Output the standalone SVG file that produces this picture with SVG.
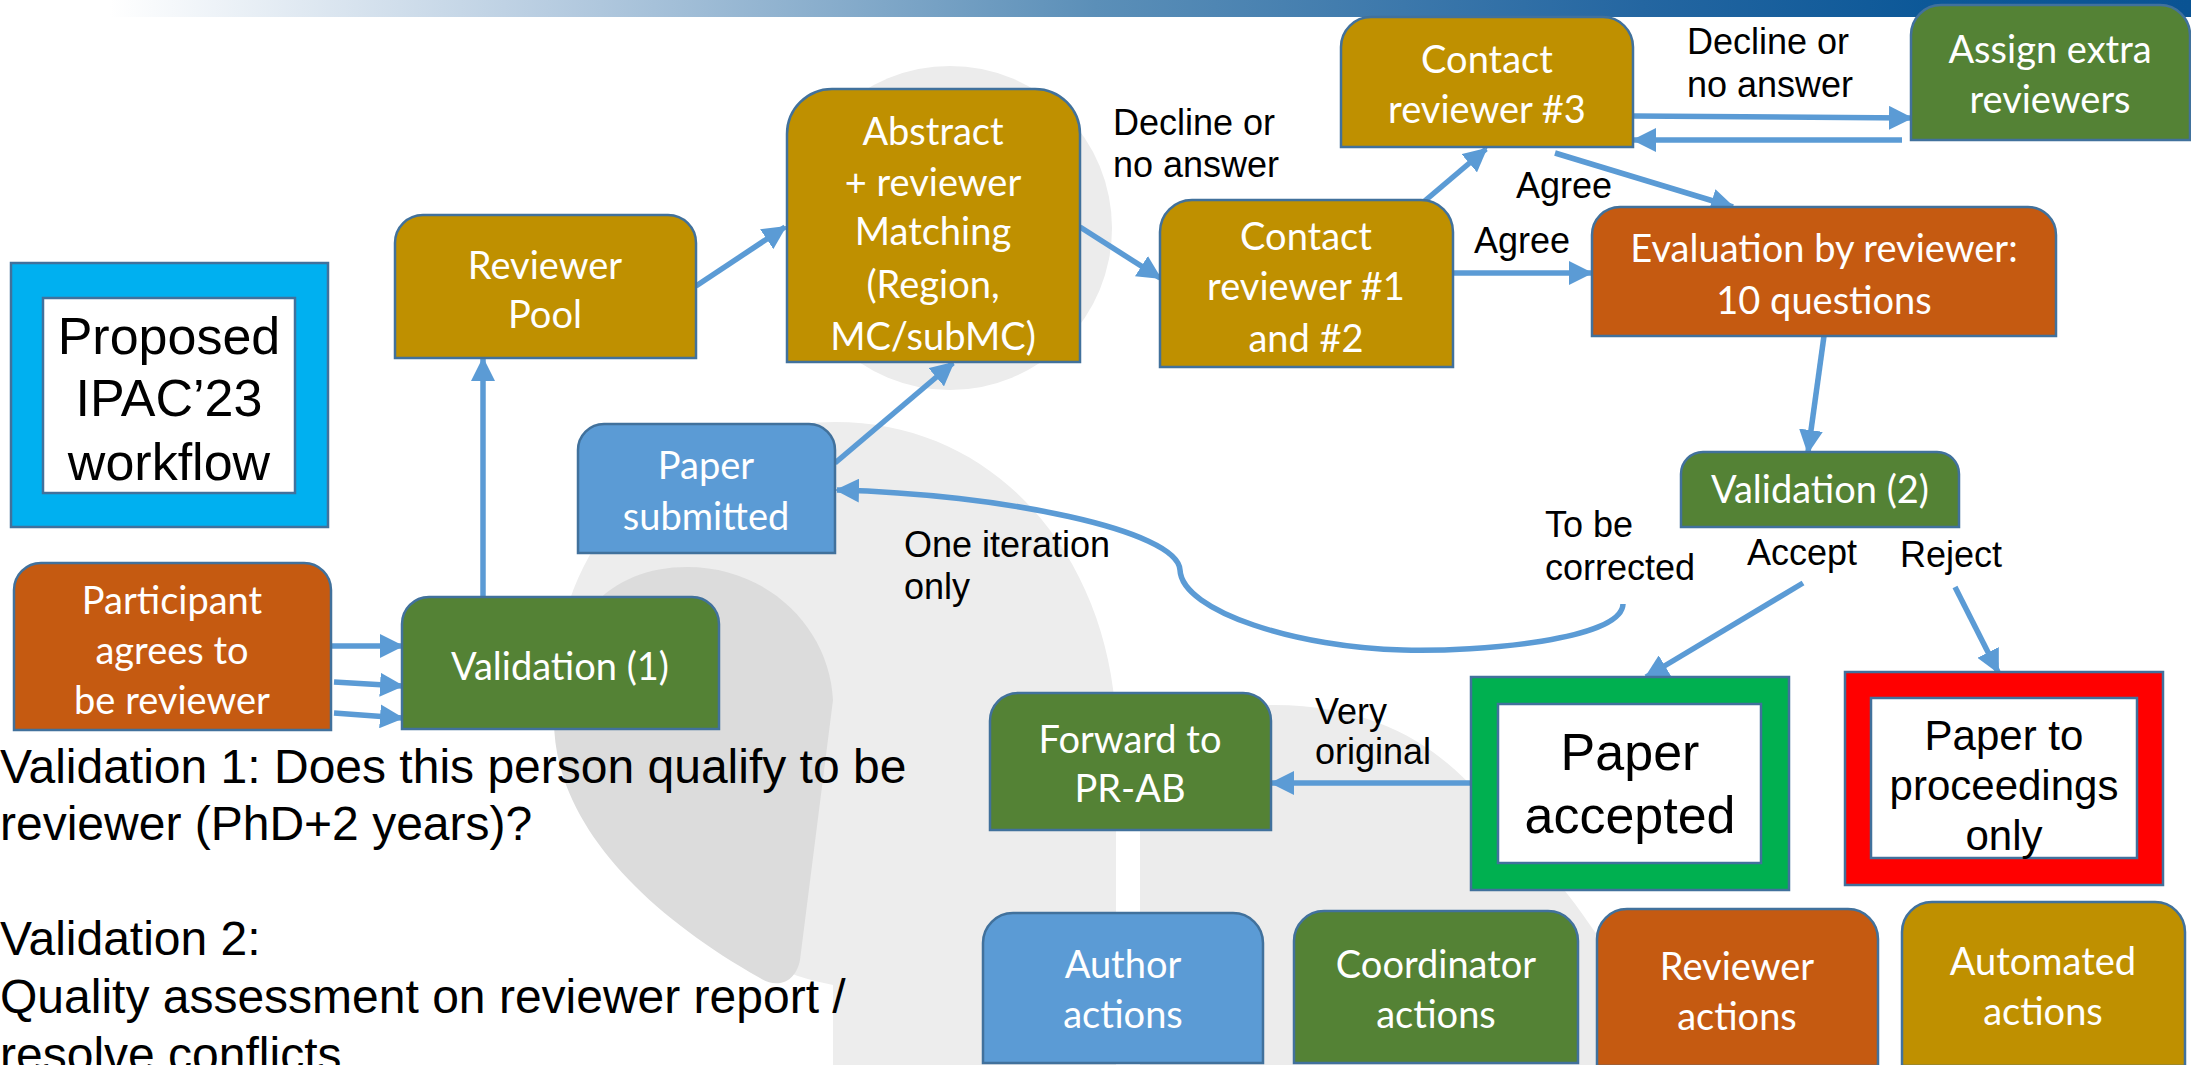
<svg xmlns="http://www.w3.org/2000/svg" width="2191" height="1065" viewBox="0 0 2191 1065">
<defs>
<linearGradient id="bar" x1="0" y1="0" x2="1" y2="0">
<stop offset="0.05" stop-color="#ffffff"/>
<stop offset="0.25" stop-color="#b8cde1"/>
<stop offset="0.5" stop-color="#5b8fb8"/>
<stop offset="0.75" stop-color="#2466a1"/>
<stop offset="0.88" stop-color="#0c5898"/>
<stop offset="1" stop-color="#0a5393"/>
</linearGradient>
<marker id="ah" markerUnits="userSpaceOnUse" markerWidth="24" markerHeight="24" viewBox="0 0 24 24" refX="22" refY="12" orient="auto">
<path d="M0,0 L24,12 L0,24 Z" fill="#5b9bd5"/>
</marker>
<style>
.n{stroke:#41719c;stroke-width:2.5}
.gold{fill:#bf9000}.green{fill:#548235}.orange{fill:#c55a11}.blue{fill:#5b9bd5}
.bt{font-family:Lato,"Open Sans",sans-serif;font-size:38px;fill:#fff;text-anchor:middle}
.lb{font-family:"Liberation Sans",Arial,sans-serif;font-size:36px;fill:#000}
.big{font-family:"Liberation Sans",Arial,sans-serif;fill:#000;text-anchor:middle}
.c{fill:none;stroke:#5b9bd5;stroke-width:5.5;marker-end:url(#ah)}
</style>
</defs>
<rect width="2191" height="1065" fill="#fff"/>
<g id="background">
<rect x="0" y="0" width="2191" height="17" fill="url(#bar)"/>
<circle cx="950" cy="228" r="162" fill="#ececec"/>
<path d="M555,700 C552,520 690,422 835,422 C1000,422 1108,560 1116,720 L1116,1065 L833,1065 L833,985 C700,960 570,830 555,700 Z" fill="#ededed"/>
<path d="M554,720 C556,620 610,567 687,567 C770,567 830,630 833,700 L800,960 C795,985 775,988 760,978 C640,910 554,820 554,720 Z" fill="#dcdcdc"/>
<path d="M1140,1065 L1140,800 C1145,730 1200,705 1274,705 C1380,705 1440,750 1480,795 C1520,840 1560,880 1590,925 L1690,1065 Z" fill="#ececec"/>
</g>
<g id="connectors">
<line class="c" x1="332" y1="646" x2="402" y2="646"/>
<line class="c" x1="334" y1="682" x2="402" y2="686"/>
<line class="c" x1="334" y1="713" x2="402" y2="718"/>
<line class="c" x1="483" y1="597" x2="483" y2="359"/>
<line class="c" x1="696" y1="286" x2="785" y2="227"/>
<line class="c" x1="1080" y1="227" x2="1160" y2="278"/>
<line class="c" x1="835" y1="463" x2="953" y2="363"/>
<line class="c" x1="1407" y1="216" x2="1486" y2="149"/>
<line class="c" x1="1453" y1="273" x2="1591" y2="273"/>
<line class="c" x1="1633" y1="116" x2="1911" y2="118"/>
<line class="c" x1="1902" y1="140" x2="1634" y2="140"/>
<line class="c" x1="1555" y1="153" x2="1733" y2="207"/>
<line class="c" x1="1824" y1="336" x2="1808" y2="452"/>
<line class="c" x1="1803" y1="583" x2="1646" y2="677"/>
<line class="c" x1="1955" y1="587" x2="1998" y2="672"/>
<line class="c" x1="1471" y1="783" x2="1272" y2="783"/>
<path class="c" d="M1623,604 C1622,640 1480,652 1403,650 C1300,648 1182,612 1180,570 C1178,530 1000,494 837,490"/>
</g>
<g id="proposed">
<rect x="11" y="263" width="317" height="264" fill="#00b0f0" class="n"/>
<rect x="43" y="298" width="252" height="195" fill="#fff" class="n"/>
<text class="big" font-size="52" x="169" y="354">Proposed</text>
<text class="big" font-size="52" x="169" y="416">IPAC’23</text>
<text class="big" font-size="52" x="169" y="480">workflow</text>
</g>
<g id="participant">
<path class="n orange" d="M14,730 L14,590 A27,27 0 0 1 41,563 L304,563 A27,27 0 0 1 331,590 L331,730 Z"/>
<text class="bt" x="172" y="614">Participant</text>
<text class="bt" x="172" y="664">agrees to</text>
<text class="bt" x="172" y="714">be reviewer</text>
</g>
<g id="validation1">
<path class="n green" d="M402,729 L402,624 A27,27 0 0 1 429,597 L692,597 A27,27 0 0 1 719,624 L719,729 Z"/>
<text class="bt" x="560" y="680">Validation (1)</text>
</g>
<g id="reviewer-pool">
<path class="n gold" d="M395,358 L395,243 A28,28 0 0 1 423,215 L668,215 A28,28 0 0 1 696,243 L696,358 Z"/>
<text class="bt" x="545" y="279">Reviewer</text>
<text class="bt" x="545" y="328">Pool</text>
</g>
<g id="abstract-matching">
<path class="n gold" d="M787,362 L787,134 A45,45 0 0 1 832,89 L1035,89 A45,45 0 0 1 1080,134 L1080,362 Z"/>
<text class="bt" x="933" y="145">Abstract</text>
<text class="bt" x="933" y="196">+ reviewer</text>
<text class="bt" x="933" y="245">Matching</text>
<text class="bt" x="933" y="298">(Region,</text>
<text class="bt" x="933" y="350">MC/subMC)</text>
</g>
<g id="paper-submitted">
<path class="n blue" d="M578,553 L578,450 A26,26 0 0 1 604,424 L809,424 A26,26 0 0 1 835,450 L835,553 Z"/>
<text class="bt" x="706" y="479">Paper</text>
<text class="bt" x="706" y="530">submitted</text>
</g>
<g id="contact12">
<path class="n gold" d="M1160,367 L1160,232 A32,32 0 0 1 1192,200 L1421,200 A32,32 0 0 1 1453,232 L1453,367 Z"/>
<text class="bt" x="1306" y="250">Contact</text>
<text class="bt" x="1306" y="300">reviewer #1</text>
<text class="bt" x="1306" y="352">and #2</text>
</g>
<g id="contact3">
<path class="n gold" d="M1341,147 L1341,47 A30,30 0 0 1 1371,17 L1603,17 A30,30 0 0 1 1633,47 L1633,147 Z"/>
<text class="bt" x="1487" y="73">Contact</text>
<text class="bt" x="1487" y="123">reviewer #3</text>
</g>
<g id="assign-extra">
<path class="n green" d="M1911,140 L1911,35 A30,30 0 0 1 1941,5 L2160,5 A30,30 0 0 1 2190,35 L2190,140 Z"/>
<text class="bt" x="2050" y="63">Assign extra</text>
<text class="bt" x="2050" y="113">reviewers</text>
</g>
<g id="evaluation">
<path class="n orange" d="M1592,336 L1592,235 A28,28 0 0 1 1620,207 L2028,207 A28,28 0 0 1 2056,235 L2056,336 Z"/>
<text class="bt" x="1824" y="262">Evaluation by reviewer:</text>
<text class="bt" x="1824" y="314">10 questions</text>
</g>
<g id="validation2">
<path class="n green" d="M1681,527 L1681,474 A22,22 0 0 1 1703,452 L1937,452 A22,22 0 0 1 1959,474 L1959,527 Z"/>
<text class="bt" x="1820" y="503">Validation (2)</text>
</g>
<g id="paper-accepted">
<rect x="1471" y="677" width="318" height="213" fill="#00b050" class="n"/>
<rect x="1498" y="704" width="263" height="159" fill="#fff" class="n"/>
<text class="big" font-size="52" x="1630" y="770">Paper</text>
<text class="big" font-size="52" x="1630" y="833">accepted</text>
</g>
<g id="paper-proceedings">
<rect x="1845" y="672" width="318" height="213" fill="#ff0000" class="n"/>
<rect x="1871" y="698" width="266" height="160" fill="#fff" class="n"/>
<text class="big" font-size="42" x="2004" y="750">Paper to</text>
<text class="big" font-size="42" x="2004" y="800">proceedings</text>
<text class="big" font-size="42" x="2004" y="850">only</text>
</g>
<g id="forward-prab">
<path class="n green" d="M990,830 L990,721 A28,28 0 0 1 1018,693 L1243,693 A28,28 0 0 1 1271,721 L1271,830 Z"/>
<text class="bt" x="1130" y="753">Forward to</text>
<text class="bt" x="1130" y="802">PR-AB</text>
</g>
<g id="legend-author">
<path class="n blue" d="M983,1063 L983,943 A30,30 0 0 1 1013,913 L1233,913 A30,30 0 0 1 1263,943 L1263,1063 Z"/>
<text class="bt" x="1123" y="978">Author</text>
<text class="bt" x="1123" y="1028">actions</text>
</g>
<g id="legend-coordinator">
<path class="n green" d="M1294,1063 L1294,941 A30,30 0 0 1 1324,911 L1548,911 A30,30 0 0 1 1578,941 L1578,1063 Z"/>
<text class="bt" x="1436" y="978">Coordinator</text>
<text class="bt" x="1436" y="1028">actions</text>
</g>
<g id="legend-reviewer">
<path class="n orange" d="M1597,1066 L1597,939 A30,30 0 0 1 1627,909 L1848,909 A30,30 0 0 1 1878,939 L1878,1066 Z"/>
<text class="bt" x="1737" y="980">Reviewer</text>
<text class="bt" x="1737" y="1030">actions</text>
</g>
<g id="legend-automated">
<path class="n gold" d="M1902,1066 L1902,932 A30,30 0 0 1 1932,902 L2155,902 A30,30 0 0 1 2185,932 L2185,1066 Z"/>
<text class="bt" x="2043" y="975">Automated</text>
<text class="bt" x="2043" y="1025">actions</text>
</g>
<g id="labels">
<text class="lb" x="1113" y="135">Decline or</text>
<text class="lb" x="1113" y="177">no answer</text>
<text class="lb" x="1687" y="54">Decline or</text>
<text class="lb" x="1687" y="97">no answer</text>
<text class="lb" x="1516" y="198">Agree</text>
<text class="lb" x="1474" y="253">Agree</text>
<text class="lb" x="904" y="557">One iteration</text>
<text class="lb" x="904" y="599">only</text>
<text class="lb" x="1545" y="537">To be</text>
<text class="lb" x="1545" y="580">corrected</text>
<text class="lb" x="1747" y="565">Accept</text>
<text class="lb" x="1900" y="567">Reject</text>
<text class="lb" x="1315" y="724">Very</text>
<text class="lb" x="1315" y="764">original</text>
</g>
<g id="notes" font-family="Liberation Sans, Arial, sans-serif" font-size="48" fill="#000">
<text x="0" y="783">Validation 1: Does this person qualify to be</text>
<text x="0" y="840">reviewer (PhD+2 years)?</text>
<text x="0" y="955">Validation 2:</text>
<text x="0" y="1013">Quality assessment on reviewer report /</text>
<text x="0" y="1071">resolve conflicts</text>
</g>
</svg>
